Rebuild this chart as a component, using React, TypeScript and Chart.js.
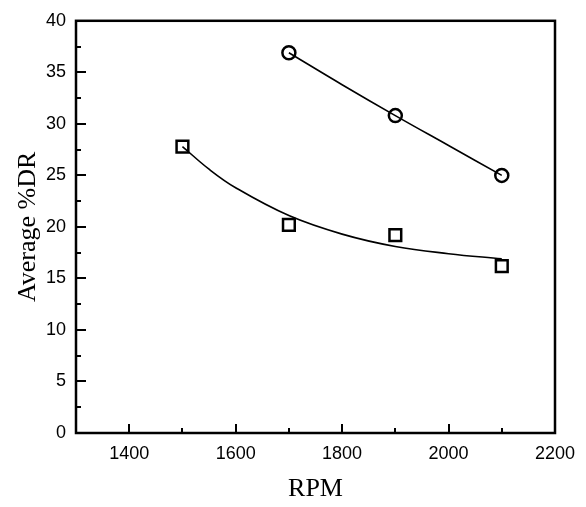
import React, { useEffect, useRef } from 'react';
import { Chart, registerables } from 'chart.js';

Chart.register(...registerables);

// Measured points
const rpmSquares = [1500, 1700, 1900, 2100];
const drSquares = [27.8, 20.2, 19.2, 16.2];
const rpmCircles = [1700, 1900, 2100];
const drCircles = [36.9, 30.8, 25.0];

// Fitted curves
const squareFitRpm = [1500, 1550, 1600, 1700, 1800, 1900, 2000, 2100];
const squareFitDr = [27.8, 25.6, 23.8, 21.1, 19.3, 18.1, 17.4, 16.9];
const circleFitRpm = [1700, 1800, 1900, 2000, 2100];
const circleFitDr = [36.9, 33.8, 30.8, 27.9, 25.0];

// Axis ticks
const xMajorTicks = [1400, 1600, 1800, 2000, 2200];
const xMinorTicks = [1500, 1700, 1900, 2100];
const yMajorTicks = [0, 5, 10, 15, 20, 25, 30, 35, 40];
const yMinorTicks = [2.5, 7.5, 12.5, 17.5, 22.5, 27.5, 32.5, 37.5];

const xTitle = 'RPM';
const yTitle = 'Average %DR';

const framePlugin = {
  id: 'frameTicks',
  afterDatasetsDraw(chart: any) {
    const { ctx, chartArea: a, scales } = chart;
    const xs = scales.x;
    const ys = scales.y;
    ctx.save();
    ctx.strokeStyle = '#000';
    ctx.lineWidth = 2;
    ctx.beginPath();
    const tick = (x1: number, y1: number, x2: number, y2: number) => {
      ctx.moveTo(x1, y1);
      ctx.lineTo(x2, y2);
    };
    xMajorTicks.forEach((v) => {
      const p = Math.round(xs.getPixelForValue(v));
      tick(p, a.bottom, p, a.bottom - 9);
    });
    xMinorTicks.forEach((v) => {
      const p = Math.round(xs.getPixelForValue(v));
      tick(p, a.bottom, p, a.bottom - 5);
    });
    yMajorTicks.forEach((v) => {
      const p = Math.round(ys.getPixelForValue(v));
      tick(a.left, p, a.left + 10, p);
    });
    yMinorTicks.forEach((v) => {
      const p = Math.round(ys.getPixelForValue(v));
      tick(a.left, p, a.left + 5, p);
    });
    ctx.stroke();
    ctx.lineWidth = 2.5;
    ctx.strokeRect(a.left, a.top, a.right - a.left, a.bottom - a.top);
    ctx.restore();
  },
};

export default function App() {
  const ref = useRef<HTMLCanvasElement | null>(null);

  useEffect(() => {
    if (!ref.current) return;
    const tickFont = { family: 'Liberation Sans, Arial, sans-serif', size: 18 };
    const titleFont = { family: 'Liberation Serif, Times New Roman, serif', size: 26 };
    const chart = new Chart(ref.current, {
      type: 'line',
      data: {
        datasets: [
          {
            label: 'square fit',
            data: squareFitRpm.map((x, i) => ({ x, y: squareFitDr[i] })),
            borderColor: '#000',
            borderWidth: 1.6,
            pointRadius: 0,
            tension: 0.4,
            fill: false,
          },
          {
            label: 'circle fit',
            data: circleFitRpm.map((x, i) => ({ x, y: circleFitDr[i] })),
            borderColor: '#000',
            borderWidth: 1.6,
            pointRadius: 0,
            tension: 0.4,
            fill: false,
          },
          {
            label: 'squares',
            data: rpmSquares.map((x, i) => ({ x, y: drSquares[i] })),
            showLine: false,
            pointStyle: 'rect',
            pointRadius: 8.3,
            pointBorderWidth: 2.5,
            pointBorderColor: '#000',
            pointBackgroundColor: 'rgba(0,0,0,0)',
          },
          {
            label: 'circles',
            data: rpmCircles.map((x, i) => ({ x, y: drCircles[i] })),
            showLine: false,
            pointStyle: 'circle',
            pointRadius: 6.5,
            pointBorderWidth: 2.5,
            pointBorderColor: '#000',
            pointBackgroundColor: 'rgba(0,0,0,0)',
          },
        ],
      },
      options: {
        responsive: false,
        animation: false,
        devicePixelRatio: 1,
        layout: { padding: { top: 17, right: 31, left: 0, bottom: 0 } },
        plugins: { legend: { display: false }, tooltip: { enabled: false } },
        scales: {
          x: {
            type: 'linear',
            min: 1300,
            max: 2200,
            grid: { display: false, drawTicks: false },
            border: { display: false },
            afterBuildTicks: (s: any) => {
              s.ticks = xMajorTicks.map((v) => ({ value: v }));
            },
            afterFit: (s: any) => {
              s.height = 74;
            },
            ticks: {
              color: '#000',
              font: tickFont,
              padding: 10,
              maxRotation: 0,
              autoSkip: false,
              callback: (v: any) => String(v),
            },
            title: {
              display: true,
              text: xTitle,
              color: '#000',
              font: titleFont,
              padding: { top: 0, bottom: 2 },
            },
          },
          y: {
            type: 'linear',
            min: 0,
            max: 40,
            grid: { display: false, drawTicks: false },
            border: { display: false },
            afterBuildTicks: (s: any) => {
              s.ticks = yMajorTicks.map((v) => ({ value: v }));
            },
            afterFit: (s: any) => {
              s.width = 76;
            },
            ticks: {
              color: '#000',
              font: tickFont,
              padding: 10,
              autoSkip: false,
              callback: (v: any) => String(v),
            },
            title: {
              display: true,
              text: yTitle,
              color: '#000',
              font: titleFont,
              padding: { top: 13, bottom: 0 },
            },
          },
        },
      },
      plugins: [framePlugin],
    } as any);
    return () => chart.destroy();
  }, []);

  return (
    <div style={{ position: 'absolute', left: 0, top: 0, width: 586, height: 507, background: '#fff' }}>
      <canvas ref={ref} width={586} height={507} style={{ width: 586, height: 507, display: 'block' }} />
    </div>
  );
}
